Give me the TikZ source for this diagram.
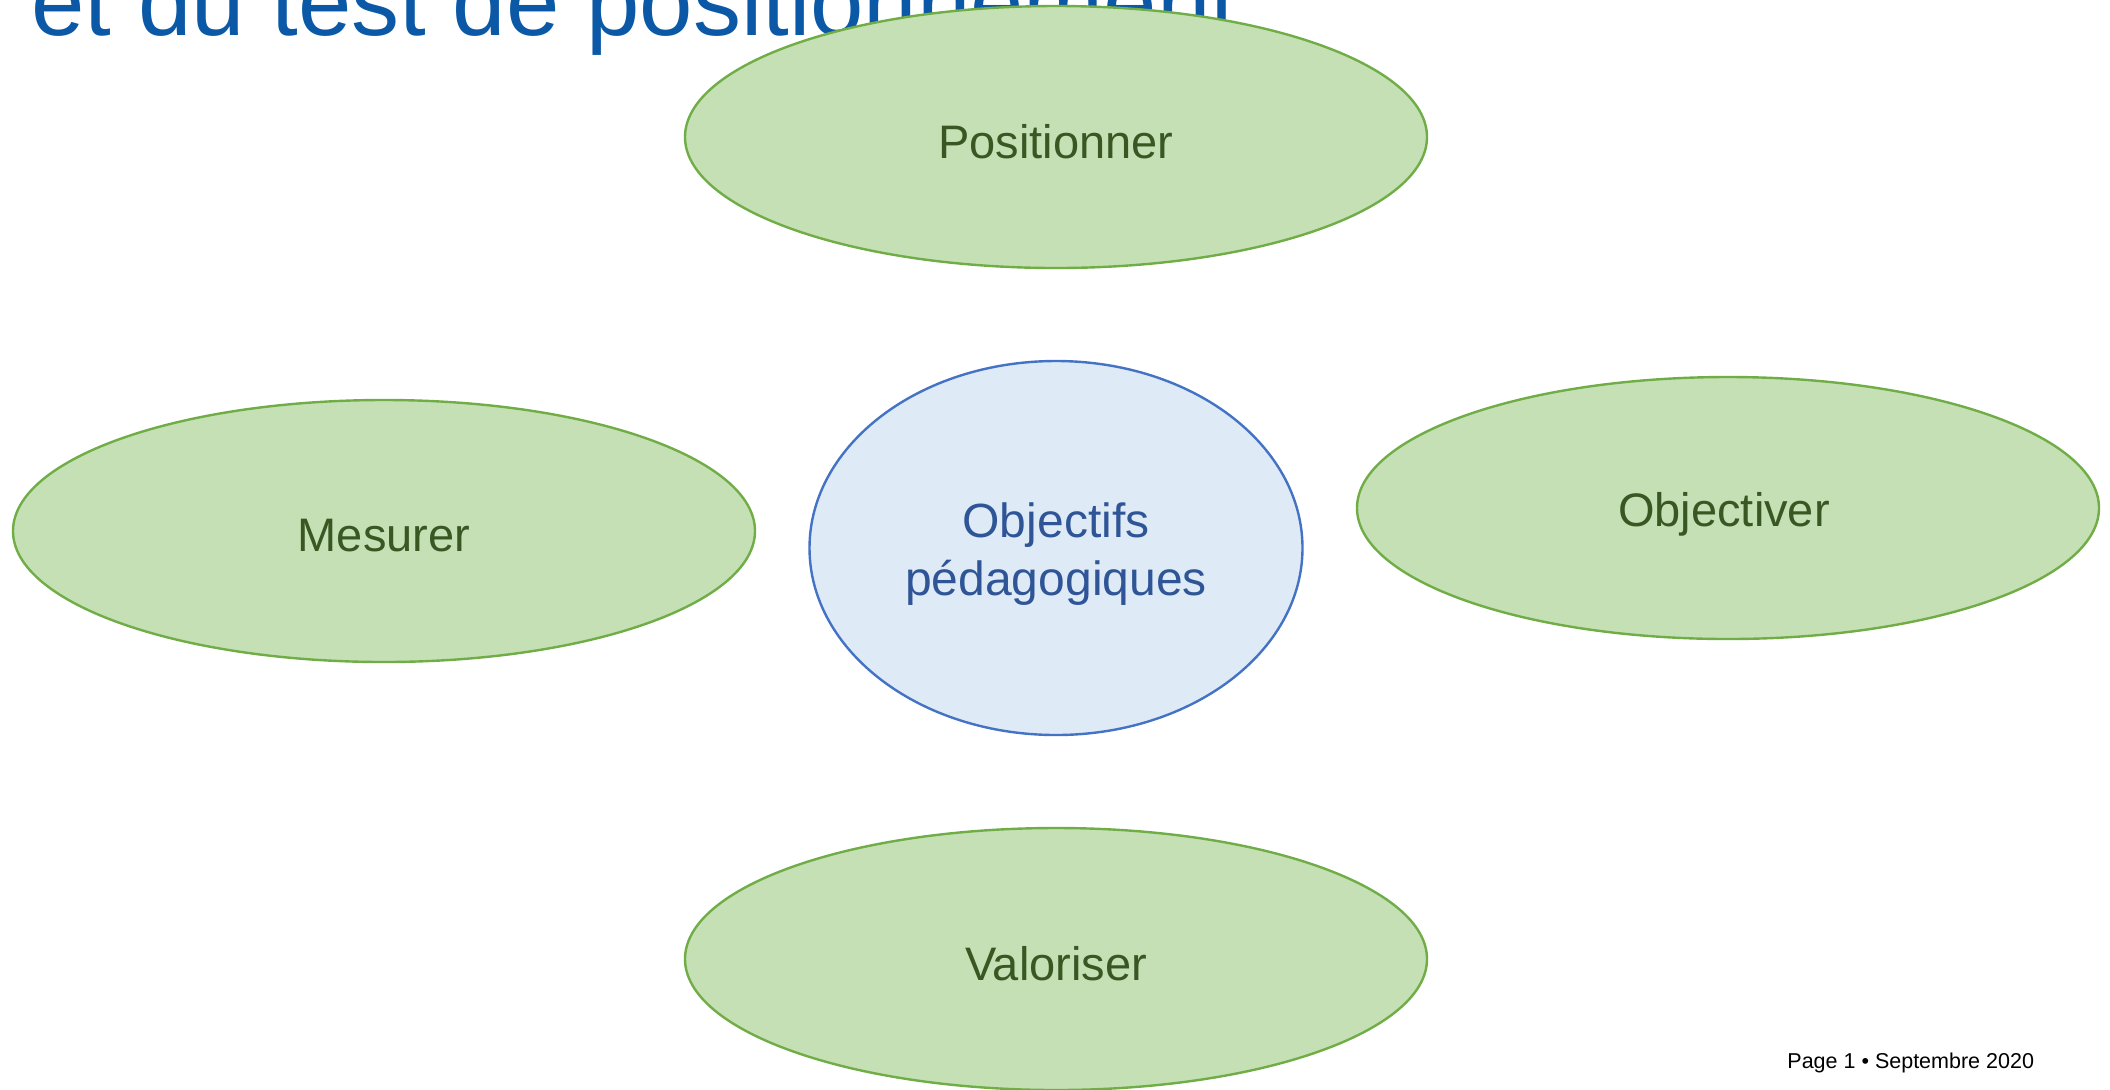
\documentclass[tikz,border=0pt]{standalone}
\usepackage{fontspec}
\setmainfont{Liberation Sans}
\usetikzlibrary{shapes.geometric}
\definecolor{gfill}{HTML}{C5E0B4}
\definecolor{gline}{HTML}{70AD47}
\definecolor{gtext}{HTML}{385723}
\definecolor{bfill}{HTML}{DEEBF7}
\definecolor{bline}{HTML}{4472C4}
\definecolor{btext}{HTML}{2F5597}
\definecolor{title}{HTML}{0B59A6}
\tikzset{
  greenell/.style={ellipse, draw=gline, fill=gfill, line width=1.2pt,
    minimum width=371pt, minimum height=131pt, inner sep=0pt},
  gtxt/.style={inner sep=0pt, text=gtext, font=\fontsize{23.5pt}{28pt}\selectfont},
  blueell/.style={ellipse, draw=bline, fill=bfill, line width=1.2pt,
    minimum width=246.5pt, minimum height=187pt, inner sep=0pt},
  btxt/.style={inner sep=0pt, text=btext, align=center, font=\fontsize{24pt}{29pt}\selectfont},
}
\begin{document}
\begin{tikzpicture}[x=0.5pt,y=-0.5pt]
\useasboundingbox (0,0) rectangle (2110,1089);
\clip (0,0) rectangle (2110,1089);
\node[anchor=base west, inner sep=0pt, text=title, font=\fontsize{48pt}{56pt}\selectfont] (ttl) at (31,35) {et du test de positionnement};
\node[greenell] (pos) at (1056,137) {};
\node[greenell] (mes) at (384,531) {};
\node[greenell] (obj) at (1728,508) {};
\node[greenell] (val) at (1056,959) {};
\node[blueell] (ctr) at (1056,548) {};
\node[gtxt] (posl) at ([yshift=-2.5pt]pos.center) {Positionner};
\node[gtxt] (mesl) at ([yshift=-2.5pt]mes.center) {Mesurer};
\node[gtxt] (objl) at ([xshift=-2pt,yshift=-3pt]obj.center) {Objectiver};
\node[gtxt] (vall) at ([yshift=-2.5pt]val.center) {Valoriser};
\node[btxt] (ctrl) at ([yshift=-3pt]ctr.center) {Objectifs\\pédagogiques};
\node[anchor=base west, inner sep=0pt, font=\fontsize{10.75pt}{13pt}\selectfont] (pg) at (1787,1068) {Page 1 • Septembre 2020};
\end{tikzpicture}
\end{document}
